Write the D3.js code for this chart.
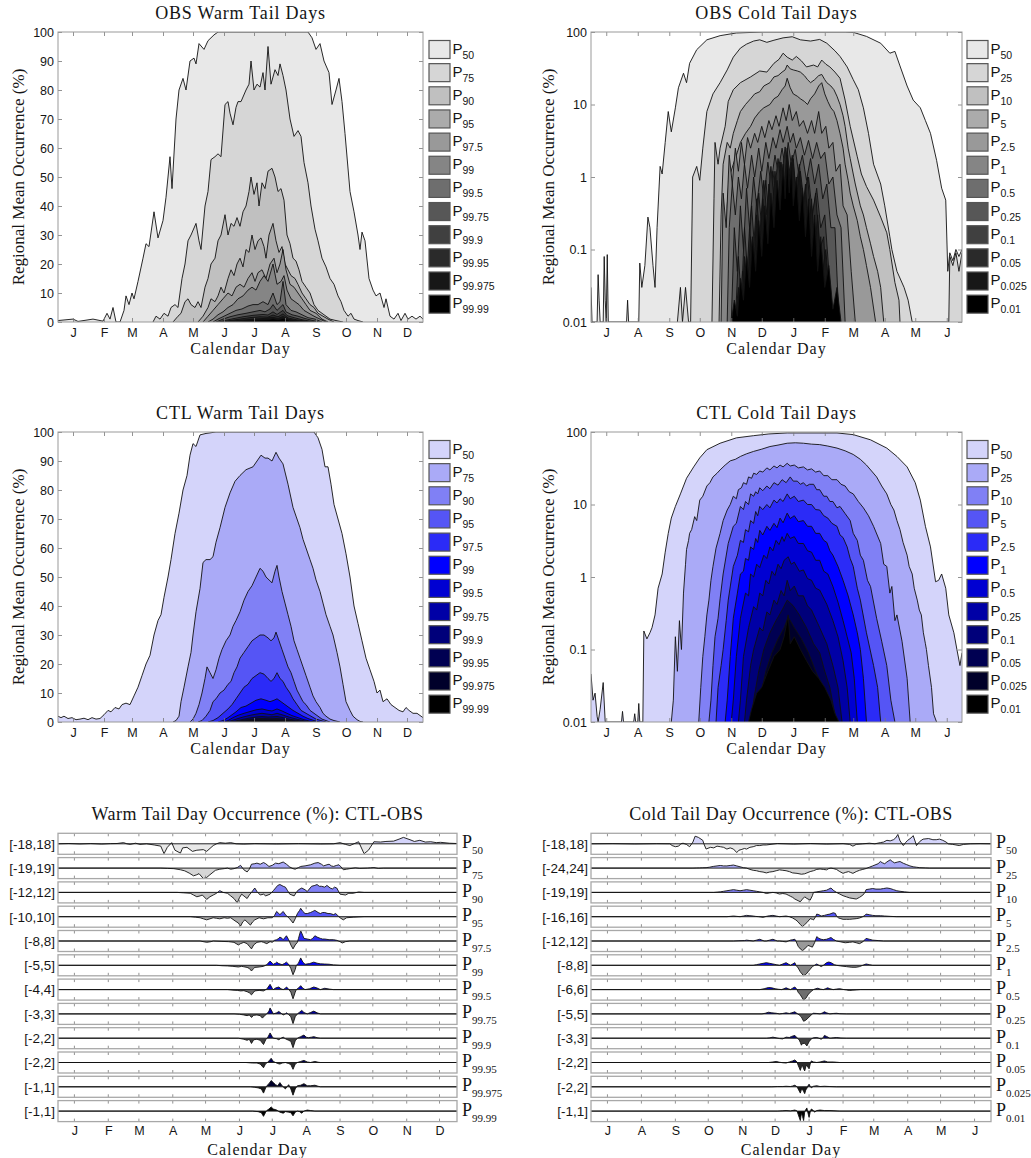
<!DOCTYPE html>
<html>
<head>
<meta charset="utf-8">
<script src="https://cdnjs.cloudflare.com/ajax/libs/d3/7.8.5/d3.min.js"></script>
<style>
  body { margin: 0; background: #fff; }
  svg text { fill: #151515; }
</style>
</head>
<body>
<div id="chart"></div>
<script>
"use strict";

// ---------- categories / labels ----------
const warmMonths = ["J","F","M","A","M","J","J","A","S","O","N","D"];
const warmMonthDays = [15,46,74,105,135,166,196,227,258,288,319,349];
const coldMonths = ["J","A","S","O","N","D","J","F","M","A","M","J"];
const coldMonthDays = [15,46,77,107,138,168,199,230,258,289,319,350];
const warmLevels = ["50","75","90","95","97.5","99","99.5","99.75","99.9","99.95","99.975","99.99"];
const coldLevels = ["50","25","10","5","2.5","1","0.5","0.25","0.1","0.05","0.025","0.01"];
const warmTicks = [0,10,20,30,40,50,60,70,80,90,100];
const coldTicks = [0.01,0.1,1,10,100];
const warmDiffRanges = [18,19,12,10,8,5,4,3,2,2,1,1];
const coldDiffRanges = [18,24,19,16,12,8,6,5,3,2,2,1];

const grayColors = ["#e8e8e8","#d6d6d6","#c0c0c0","#ababab","#999999","#858585","#6e6e6e","#575757","#404040","#2a2a2a","#171717","#000000"];
const blueColors = ["#d4d4fa","#aaaaf7","#8080f5","#5555f5","#2b2bf7","#0000ff","#0000d2","#0000a6","#00007a","#000052","#00002a","#000000"];

// ---------- OBS warm tail days (day of year from 1 Jan, %) ----------
const obsWarm = [
  [[0,0.5],[15,1],[20,0.2],[35,1],[45,0.3],[49,3],[52,1],[55,5],[58,0],[62,0],[66,4],[68,9],[71,6],[74,10],[76,8],[80,14],[85,22],[88,27],[91,26],[96,38],[100,29],[105,35],[108,43],[112,57],[114,46],[118,70],[121,80],[125,84],[128,80],[132,90],[136,91],[138,89],[141,96],[146,94],[150,97],[156,99],[160,100],[250,100],[254,98],[258,94],[262,96],[266,90],[271,86],[274,75],[278,80],[281,84],[284,76],[287,65],[292,45],[296,38],[300,30],[302,25],[304,31],[307,28],[311,15],[315,11],[318,9],[322,10],[326,5],[328,8],[332,2],[336,1],[340,3],[343,0.5],[347,3],[350,1],[354,2],[358,1],[362,2],[365,1]],
  [[95,0],[98,2],[102,1],[106,3],[110,2],[113,5],[117,6],[120,5],[124,15],[127,20],[130,28],[133,30],[138,34],[141,28],[143,25],[147,40],[150,45],[153,56],[157,57],[160,58],[163,57],[167,75],[170,76],[172,72],[175,68],[178,74],[180,76],[183,76],[188,80],[191,82],[193,90],[196,80],[199,82],[202,81],[205,86],[207,80],[210,95],[213,82],[217,87],[220,85],[222,89],[225,85],[228,80],[232,70],[236,64],[240,66],[243,64],[246,55],[250,48],[253,40],[257,32],[260,28],[264,22],[268,19],[272,15],[276,13],[280,9],[283,7],[286,4],[290,2],[293,3],[296,1],[300,0.5],[305,0]],
  [[115,0],[120,2],[123,3],[127,7],[130,8],[133,6],[137,5],[140,7],[143,5],[147,12],[150,15],[153,20],[157,22],[160,28],[163,30],[167,37],[170,30],[173,34],[176,33],[179,36],[182,33],[185,38],[188,40],[191,45],[193,50],[196,44],[199,48],[201,40],[204,48],[207,46],[210,52],[214,53],[217,50],[220,45],[223,46],[226,42],[229,30],[232,27],[235,22],[238,21],[241,18],[244,14],[248,12],[252,10],[256,6],[260,4],[264,3],[268,2],[272,1],[278,0.5],[285,0]],
  [[140,0],[145,2],[150,5],[153,8],[157,7],[160,9],[163,12],[166,10],[170,15],[173,18],[176,16],[179,20],[182,22],[185,19],[188,25],[191,24],[194,30],[197,25],[200,28],[203,29],[206,26],[208,22],[211,30],[215,34],[218,28],[221,24],[224,26],[227,20],[230,18],[233,16],[237,15],[240,13],[244,10],[248,8],[252,6],[256,5],[260,3],[265,2],[270,1],[276,0]],
  [[145,0],[150,2],[155,4],[160,6],[165,8],[170,10],[174,9],[178,12],[182,13],[186,12],[190,15],[194,17],[197,14],[200,17],[204,18],[208,15],[212,20],[216,22],[219,17],[222,20],[225,25],[228,18],[232,13],[236,12],[240,10],[244,8],[248,6],[252,4],[258,3],[264,1],[270,0]],
  [[150,0],[155,1],[160,2.5],[165,3.5],[170,5],[175,6],[180,8],[185,9],[190,11],[194,12],[198,11],[202,14],[206,16],[210,14],[215,20],[219,13],[223,14],[226,16],[229,11],[233,8],[237,7],[241,6],[246,4],[251,3],[256,2],[262,1],[268,0]],
  [[155,0],[160,1],[166,2],[172,3],[178,4],[184,4.5],[190,5.5],[195,6],[200,6],[205,7],[210,6],[215,10],[219,6],[222,7],[225,14],[228,6],[233,4],[238,3.5],[244,2.5],[250,1.5],[257,1],[264,0]],
  [[158,0],[165,1],[172,1.8],[180,2.5],[188,3],[195,3.5],[202,4],[207,3.5],[212,4.5],[215,6],[219,4],[225,6],[228,3.5],[234,2.5],[240,2],[247,1.2],[255,0.5],[262,0]],
  [[160,0],[168,0.6],[176,1.2],[185,1.8],[195,2.3],[205,2.6],[210,2.4],[215,3.5],[219,2.6],[225,4],[229,2.2],[236,1.5],[244,0.8],[252,0.3],[260,0]],
  [[163,0],[172,0.5],[182,1],[192,1.5],[202,1.8],[210,1.7],[215,2.4],[220,1.8],[225,2.8],[230,1.4],[238,0.8],[248,0.3],[256,0]],
  [[166,0],[176,0.4],[186,0.7],[196,1],[205,1.2],[215,1.6],[220,1.2],[225,1.9],[231,0.9],[240,0.4],[250,0]],
  [[170,0],[180,0.2],[190,0.5],[200,0.7],[210,0.8],[215,1.1],[220,0.8],[225,1.2],[232,0.5],[242,0.2],[250,0]]
];

// ---------- CTL warm tail days ----------
const ctlWarm = [
  [[0,2],[3,1.5],[6,2],[10,1.2],[14,1.5],[18,0.8],[22,1],[26,1.3],[30,0.8],[34,1.5],[38,1],[42,1.2],[46,2.5],[50,4],[53,3.5],[57,5],[61,4.5],[64,6],[68,6.5],[72,6],[76,9],[80,12],[84,16],[88,20],[92,23],[96,30],[100,35],[103,37],[106,43],[110,50],[113,56],[117,65],[121,72],[125,80],[129,85],[132,92],[135,96],[138,95],[142,99],[148,99.5],[158,100],[256,100],[260,98],[264,94],[267,88],[270,88],[273,82],[276,75],[280,70],[284,65],[288,58],[292,50],[296,40],[300,34],[304,28],[308,22],[312,18],[316,14],[319,10],[322,11],[325,7],[329,8],[333,6],[337,5],[341,4],[345,3.5],[348,5],[351,4],[355,3],[359,3],[363,2],[365,1.5]],
  [[115,0],[118,0.5],[121,2],[123,7],[126,12],[130,19],[133,24],[135,30],[138,38],[142,46],[145,55],[148,56],[152,56],[155,57],[158,62],[162,67],[167,74],[172,79],[177,83],[182,85],[188,87],[195,88],[199,90],[203,92],[207,91],[210,91],[214,90],[218,93],[221,91],[225,89],[230,82],[235,74],[238,71],[242,67],[245,63],[248,60],[252,56],[255,53],[258,49],[262,45],[265,41],[268,37],[272,33],[275,30],[279,24],[282,19],[285,13],[288,7],[292,4],[295,2],[299,0.8],[302,0.2],[305,0]],
  [[132,0],[135,1],[138,3],[141,6],[144,10],[147,15],[149,19],[152,17],[155,15],[158,18],[161,22],[164,25],[168,28],[172,30],[175,33],[178,35],[182,38],[186,42],[190,45],[194,47],[198,50],[202,53],[205,52],[208,50],[211,49],[214,48],[217,52],[219,54],[221,50],[224,45],[227,41],[230,37],[233,33],[236,28],[239,25],[242,22],[245,19],[248,16],[252,12],[255,9],[258,7],[262,5],[265,3],[268,2],[272,1],[276,0.5],[282,0]],
  [[140,0],[144,0.5],[148,2],[152,4],[155,7],[158,8],[162,10],[166,11],[170,13],[173,14],[176,17],[179,19],[182,22],[186,24],[190,26],[194,28],[198,29],[202,30],[206,30],[210,29],[213,28],[216,29],[218,31],[221,28],[224,25],[227,22],[230,19],[233,17],[236,14],[239,11],[242,9],[245,7],[248,6],[252,4],[256,3],[260,2],[264,1],[268,0.5],[272,0]],
  [[150,0],[155,0.5],[160,1.5],[165,3],[170,4.5],[174,6],[178,8],[182,10],[186,12],[190,13],[194,15],[198,16],[202,17],[206,16.5],[210,15],[213,14],[216,15],[219,17],[222,15],[225,14],[228,12],[232,10],[235,8],[239,6],[243,4],[248,3],[253,2],[258,1],[263,0.5],[268,0]],
  [[160,0],[165,0.5],[170,1.5],[174,2.5],[178,3.5],[183,5],[188,5.5],[193,6.5],[198,7.5],[203,8],[208,7.5],[212,7],[216,7.5],[219,8],[223,7],[227,6],[231,5],[235,4],[240,3],[245,2],[250,1.2],[256,0.5],[262,0]],
  [[165,0],[170,0.5],[175,1.5],[180,2.3],[186,3],[192,3.6],[198,4.2],[204,4.5],[210,4],[214,3.8],[219,4.5],[224,3.8],[229,3],[234,2.2],[240,1.5],[246,0.8],[252,0.3],[258,0]],
  [[168,0],[174,0.5],[180,1.2],[186,1.8],[192,2.3],[198,2.7],[204,3],[210,2.7],[214,2.5],[219,3],[224,2.5],[230,1.8],[236,1.2],[242,0.7],[248,0.3],[254,0]],
  [[172,0],[178,0.4],[185,0.9],[192,1.4],[198,1.7],[204,1.9],[210,1.7],[219,1.9],[225,1.5],[231,1],[238,0.6],[245,0.2],[250,0]],
  [[175,0],[182,0.4],[190,0.8],[198,1.1],[204,1.2],[212,1.1],[219,1.2],[226,0.9],[233,0.5],[240,0.2],[246,0]],
  [[178,0],[186,0.3],[194,0.6],[202,0.8],[210,0.7],[219,0.8],[226,0.6],[233,0.3],[240,0.1],[244,0]],
  [[182,0],[190,0.2],[198,0.35],[205,0.45],[212,0.4],[219,0.45],[226,0.3],[233,0.15],[240,0]]
];

// ---------- OBS cold tail days (day from 1 Jul, %; log axis) ----------
const obsCold = [
  [[0,0.03],[1,0],[6,0],[7,0.045],[8,0.02],[9,0],[12,0],[13,0.08],[14,0.02],[15,0],[16,0.085],[17,0],[35,0],[36,0.02],[37,0],[47,0],[48,0.065],[50,0.03],[53,0.06],[56,0.28],[58,0.2],[61,0.06],[63,0.03],[65,0.2],[68,1.4],[70,1.1],[73,3],[76,8],[79,4.2],[83,9],[86,17],[91,27],[94,20],[97,37],[104,57],[114,78],[127,89],[143,97],[170,100],[250,100],[258,99],[271,87],[285,70],[294,51],[299,54],[304,34],[311,18],[317,11.5],[324,9],[329,6],[334,4],[340,1.7],[345,0.7],[349,0.48],[351,0.05],[353,0.09],[356,0.07],[359,0.1],[362,0.08],[365,0.1]],
  [[85,0],[88,0.03],[90,0.01],[93,0.03],[96,0],[98,0.01],[100,1],[104,1.4],[107,0.9],[110,2.5],[114,8],[120,14],[127,20],[134,30],[140,45],[147,60],[153,68],[160,75],[166,78],[173,72],[180,77],[189,83],[198,86],[206,78],[216,75],[225,79],[232,70],[240,55],[245,46],[252,33],[258,22],[263,16],[268,9],[273,4],[278,1.5],[285,0.8],[289,0.4],[294,0.15],[296,0.1],[301,0.05],[308,0.03],[312,0.02],[316,0],[352,0],[353,0.08],[356,0.06],[359,0.09],[362,0.05],[365,0.09]],
  [[119,0],[121,0.5],[122,3],[125,1.5],[127,2.5],[132,5],[135,11],[140,16],[147,20],[157,24],[166,29],[173,28],[180,37],[185,42],[189,51],[193,45],[198,41],[202,46],[207,40],[212,33],[219,35],[223,33],[227,41],[231,36],[235,33],[240,28],[245,23],[250,11.5],[255,5],[262,1.9],[266,1.1],[271,0.74],[278,0.48],[285,0.28],[291,0.17],[294,0.1],[299,0.035],[303,0.02],[304,0]],
  [[126,0],[128,0.3],[130,1.5],[134,3],[137,2.5],[140,4],[144,6],[147,8],[152,10],[157,12],[161,14],[166,15],[170,18],[176,20],[180,24],[184,25],[188,28],[191,30],[193,35],[196,31],[199,30],[203,29],[206,28],[210,25],[213,22],[216,20],[220,22],[224,25],[227,26],[230,22],[232,20],[236,18],[239,16],[242,13],[245,10],[248,7],[250,5],[253,2.5],[255,1.8],[258,1.1],[260,0.8],[265,0.4],[268,0.3],[271,0.2],[275,0.12],[278,0.08],[282,0.05],[285,0.03],[288,0]],
  [[132,0],[134,0.4],[136,1],[140,1.5],[144,2.2],[147,3],[152,4],[157,5],[161,6.5],[166,8],[170,9],[176,10],[180,12],[184,13],[188,16],[191,18],[193,23],[196,17],[199,14],[203,13],[206,12],[210,11],[213,10],[216,12],[220,14],[224,18],[227,20],[230,14],[233,11],[236,9],[239,8],[242,6],[245,4],[248,2.5],[250,1.5],[253,0.9],[255,0.6],[258,0.4],[262,0.25],[265,0.15],[268,0.1],[271,0.06],[275,0.03],[280,0]],
  [[128,0],[130,0.6],[133,0.2],[136,2],[139,0.8],[142,2.5],[145,1.2],[148,3],[151,1.5],[154,3.5],[157,2.5],[161,4],[164,3],[168,5],[171,3.5],[175,6],[178,4.5],[182,7],[185,5],[189,9],[192,6],[195,10],[198,6],[202,8],[205,5],[209,6],[213,4],[217,6],[220,4],[224,8],[227,4],[231,5],[234,2.5],[238,3],[241,1.2],[245,1.5],[248,0.4],[252,0.3],[256,0.05],[260,0]],
  [[134,0],[136,0.2],[139,0.8],[142,0.3],[145,1],[148,0.5],[151,1.5],[154,0.7],[158,2],[161,1],[165,2.5],[168,1.2],[172,3],[175,1.8],[179,3.5],[182,2.5],[186,4.5],[189,3],[193,5],[196,3],[199,4],[202,2.5],[206,3.5],[210,2],[214,3.2],[218,1.8],[222,3],[226,1.8],[230,2.2],[234,0.8],[238,1],[242,0.3],[246,0.2],[250,0]],
  [[138,0],[141,0.2],[144,0.05],[147,0.4],[150,0.1],[153,0.7],[156,0.2],[160,1],[163,0.4],[167,1.2],[170,0.5],[174,1.6],[177,0.8],[181,2],[184,1.2],[188,2.5],[191,1.4],[194,3],[197,1.5],[201,2.4],[204,1.2],[208,2],[212,0.9],[216,1.8],[220,0.8],[224,1.5],[228,0.5],[232,0.8],[236,0.2],[240,0.2],[244,0]],
  [[142,0],[145,0.08],[148,0.02],[151,0.2],[154,0.05],[158,0.4],[161,0.1],[165,0.6],[168,0.2],[172,0.9],[175,0.3],[179,1.2],[182,0.5],[186,1.6],[189,0.7],[192,2],[195,0.8],[199,1.5],[202,0.6],[206,1.2],[210,0.4],[214,1],[218,0.3],[222,0.7],[226,0.2],[230,0.3],[234,0.05],[238,0]],
  [[146,0],[149,0.05],[152,0.02],[156,0.2],[159,0.06],[163,0.5],[166,0.15],[170,0.9],[173,0.3],[177,1.4],[180,0.5],[184,1.8],[187,0.8],[191,2.6],[194,1],[198,2],[201,0.6],[205,1.5],[209,0.4],[213,1],[217,0.25],[221,0.6],[225,0.1],[229,0.15],[233,0]],
  [[142,0],[145,0.03],[148,0.015],[151,0.08],[154,0.03],[157,0.15],[160,0.05],[163,0.3],[166,0.1],[169,0.5],[172,0.15],[175,0.8],[178,0.3],[181,1.2],[184,0.45],[187,1.6],[190,0.7],[193,2.5],[196,0.8],[199,1.8],[202,0.5],[205,1.2],[208,0.3],[211,0.8],[214,0.15],[217,0.5],[220,0.1],[223,0.3],[227,0.04],[231,0.1],[235,0.02],[240,0]],
  [[138,0],[141,0.02],[144,0.012],[147,0.04],[150,0.02],[153,0.08],[156,0.03],[159,0.15],[162,0.05],[165,0.25],[168,0.08],[171,0.4],[174,0.12],[177,0.6],[180,0.2],[183,0.9],[186,0.35],[189,1.5],[191,0.5],[193,2],[195,0.6],[197,1.6],[199,0.4],[202,1],[205,0.25],[208,0.7],[211,0.15],[214,0.5],[217,0.08],[220,0.3],[223,0.05],[226,0.15],[230,0.03],[234,0.06],[238,0.015],[242,0.03],[246,0]]
];

// ---------- CTL cold tail days ----------
const ctlCold = [
  [[0,0.046],[2,0.02],[4,0.025],[6,0.012],[7,0],[9,0.015],[12,0.035],[14,0.01],[15,0],[30,0],[31,0.014],[32,0],[42,0],[43,0.013],[44,0],[46,0],[47,0.018],[48,0],[51,0],[52,0.18],[55,0.14],[58,0.17],[60,0.2],[63,0.3],[66,0.7],[70,1.1],[73,2.2],[76,4],[79,6.5],[83,9.4],[88,14],[94,23],[101,33],[107,44],[114,57],[127,70],[143,83],[160,89],[175,94],[193,97],[242,97],[258,92],[275,78],[291,60],[301,46],[311,33],[319,20],[324,11.5],[329,5],[334,2.6],[339,0.86],[342,0.9],[345,1.1],[349,0.7],[352,0.3],[357,0.17],[360,0.1],[363,0.06],[365,0.09]],
  [[79,0],[81,0.02],[83,0.15],[85,0.05],[87,0.25],[89,0.1],[91,0.6],[93,1.5],[94,2.4],[96,3.2],[97,4],[99,4.5],[102,6.8],[104,6],[107,11.5],[110,13],[114,18],[117,20],[120,24],[124,27],[127,30],[132,35],[137,40],[142,42],[147,46],[153,50],[160,54],[168,58],[176,63],[184,66],[193,70],[201,71],[209,70],[217,68],[225,67],[233,64],[242,60],[250,55],[258,49],[265,42],[271,35],[276,29],[281,24],[286,18],[291,14],[295,10],[298,8.4],[301,6],[304,4.5],[307,3],[311,2],[313,1.4],[316,1.1],[318,0.7],[321,0.48],[323,0.35],[325,0.3],[327,0.17],[329,0.12],[330,0.1],[332,0.06],[335,0.03],[337,0.013],[340,0]],
  [[106,0],[108,0.03],[110,0.08],[112,0.15],[114,0.3],[116,0.48],[118,0.9],[120,1.4],[123,2.5],[127,4],[130,6],[134,8.4],[137,10],[140,13],[143,12],[145,16],[148,17],[150,20],[153,19],[155,24],[158,23],[160,27],[163,26],[166,29],[169,28],[173,32],[176,30],[180,34],[183,32],[186,35],[189,33],[193,37],[196,34],[200,35],[204,32],[209,33],[213,30],[217,31],[221,28],[225,29],[229,25],[233,25],[237,22],[242,22],[246,19],[250,18],[254,15],[258,14],[263,11],[268,9],[273,7],[278,5],[285,2.9],[288,1.5],[291,1.4],[294,0.6],[296,0.74],[299,0.25],[301,0.3],[306,0.13],[311,0.04],[314,0]],
  [[116,0],[118,0.02],[120,0.06],[122,0.15],[125,0.27],[127,0.5],[130,1.1],[135,2.9],[140,5],[143,5.5],[147,9.4],[150,8.5],[152,11],[155,10],[157,14],[160,13],[162,15],[164,14],[166,17],[169,15.5],[173,18],[176,16.5],[180,20],[184,18.5],[188,22],[192,20],[196,24],[199,21],[203,21],[206,19],[209,20],[212,18],[215,19],[219,19],[222,16],[225,16],[229,13],[232,13],[235,11],[238,11],[242,9],[245,9.4],[250,7.5],[255,6],[258,4],[262,3.2],[265,2],[268,1.7],[272,0.9],[275,0.74],[281,0.27],[286,0.13],[291,0.06],[295,0.02],[299,0]],
  [[123,0],[125,0.03],[128,0.06],[130,0.1],[133,0.25],[135,0.48],[140,1.4],[144,2],[147,3.2],[150,3],[152,4.5],[155,4.2],[157,6],[160,5.5],[162,8],[164,7],[166,9.4],[169,8.5],[173,10],[176,9],[180,11.5],[183,10.5],[186,12],[189,11],[193,14],[196,12],[200,13],[204,11],[209,11.5],[213,10],[217,10],[221,8.5],[225,8.4],[229,7],[233,6.5],[237,5.5],[242,5],[245,3.8],[248,3.5],[252,2.6],[255,1.8],[258,1.4],[262,0.7],[265,0.48],[271,0.17],[278,0.06],[282,0.03],[285,0]],
  [[132,0],[134,0.02],[137,0.08],[140,0.27],[144,0.6],[147,1.1],[150,1.2],[152,1.8],[155,1.7],[157,2.6],[160,2.4],[162,3.4],[164,3],[166,4.4],[169,3.8],[173,5],[176,4.4],[180,5.5],[183,4.8],[186,6.5],[189,5.6],[193,7.6],[196,6.4],[200,7],[204,5.8],[209,6],[213,5],[217,5],[221,4],[225,4],[229,3.2],[232,3],[235,2.3],[238,2],[243,1.4],[248,0.9],[253,0.55],[258,0.3],[262,0.17],[265,0.1],[268,0.04],[271,0]],
  [[138,0],[140,0.02],[143,0.08],[147,0.27],[152,0.6],[155,0.55],[157,1.1],[160,1],[163,1.5],[166,1.35],[170,2],[173,1.8],[176,2.6],[179,2.3],[182,3.2],[185,2.8],[188,3.6],[190,3.1],[193,4],[196,3.4],[200,3.6],[204,2.9],[209,2.9],[213,2.3],[217,2.2],[221,1.7],[225,1.7],[229,1.2],[233,1.1],[238,0.74],[243,0.45],[248,0.25],[252,0.15],[256,0.09],[259,0.04],[262,0]],
  [[145,0],[147,0.02],[150,0.08],[155,0.2],[160,0.39],[163,0.35],[166,0.6],[169,0.55],[172,0.9],[175,0.8],[178,1.2],[181,1.05],[184,1.5],[187,1.3],[190,1.7],[194,1.9],[197,1.5],[200,1.6],[205,1.2],[209,1.25],[213,0.95],[217,0.9],[221,0.7],[225,0.66],[232,0.42],[238,0.25],[243,0.15],[248,0.07],[252,0.03],[255,0]],
  [[151,0],[153,0.02],[157,0.06],[160,0.1],[166,0.2],[169,0.18],[173,0.33],[176,0.3],[180,0.48],[183,0.42],[187,0.65],[190,0.55],[193,0.9],[196,0.65],[200,0.75],[204,0.55],[209,0.55],[213,0.4],[217,0.35],[225,0.2],[232,0.12],[238,0.06],[243,0.03],[247,0]],
  [[158,0],[160,0.02],[165,0.05],[170,0.1],[176,0.17],[182,0.25],[188,0.35],[193,0.48],[199,0.4],[205,0.3],[212,0.2],[219,0.12],[225,0.09],[230,0.05],[235,0.03],[239,0.015],[242,0]],
  [[162,0],[166,0.02],[172,0.05],[178,0.09],[184,0.14],[190,0.2],[194,0.28],[200,0.2],[207,0.14],[214,0.09],[221,0.05],[228,0.03],[234,0.015],[238,0]],
  [[155,0],[158,0.015],[163,0.025],[168,0.03],[174,0.05],[180,0.08],[186,0.1],[190,0.15],[194,0.3],[196,0.12],[200,0.15],[206,0.1],[212,0.07],[218,0.05],[224,0.04],[230,0.03],[236,0.02],[240,0.013],[244,0]]
];

// ---------- CTL-OBS differences, warm (percentage points) ----------
const warmDiff = [
  [[0,0],[10,0.5],[20,-0.3],[30,0.4],[40,-0.5],[48,0.3],[54,0.5],[60,2],[63,0],[66,-1],[71,1],[75,-1],[81,0],[88,-2],[94,-4],[97,-17],[100,-6],[103,0],[104,2],[107,-11],[112,-16],[114,-7],[118,-6],[123,-13],[127,-11],[133,-10],[136,-13],[142,-3],[145,0],[148,2],[153,1],[158,2],[163,0],[170,-0.5],[180,0.3],[200,-0.3],[220,0.3],[240,-0.3],[252,0],[258,2],[263,-1],[267,-3],[275,3.5],[280,-17],[284,-11],[289,3.5],[295,3],[300,4],[307,4.6],[312,8],[316,11],[322,7],[326,4],[331,6],[336,3],[341,3.5],[346,2],[350,2.5],[358,1],[365,0.5]],
  [[0,0],[94,0],[100,-0.5],[106,-1],[112,-3],[116,-5],[120,-9],[124,-14],[127,-12],[129,-10],[133,-19],[136,-17],[139,-12],[144,-4],[148,-2],[152,-1],[155,0],[158,-2],[161,-1],[164,1],[167,5],[170,-3],[173,-7],[175,-2],[177,7],[180,8],[182,9],[185,7],[188,10],[190,8],[193,3],[196,5],[199,9],[202,8],[206,11],[209,7],[212,2],[215,-1],[217,-2],[220,1],[222,3],[226,4],[231,6],[235,9],[238,10],[241,7],[243,4],[246,6],[248,7],[250,4],[252,3],[255,5],[257,6],[259,2],[261,-3],[264,-2],[267,-1],[272,0.5],[276,-0.5],[283,0],[286,0.5],[289,1],[293,-0.5],[298,0],[365,0]],
  [[0,0],[109,0],[115,-0.5],[121,-1],[124,-3],[127,-5],[130,-4],[132,-3],[136,-8],[139,-5],[142,-3],[145,-1],[148,2],[151,0],[155,-1],[158,-4],[161,-7],[164,-12],[166,-6],[168,-2],[170,-4],[173,-7],[175,-3],[177,0],[180,5],[182,1],[185,-3],[188,-2],[190,-4],[194,-2],[197,2],[199,5],[201,8],[203,9],[206,7],[208,6],[210,2],[212,-2],[216,-4],[218,0],[220,3],[223,5],[226,3],[228,1],[232,7],[235,8],[237,9],[239,7],[241,7],[244,6],[246,8],[249,5],[251,4],[253,6],[255,5],[258,-2],[263,-3],[266,-1],[270,-1],[275,0.5],[280,0],[365,0]],
  [[0,0],[121,0],[126,-0.5],[130,-1],[133,-2],[136,-3],[139,-2],[142,-1],[145,-1.5],[148,-2],[152,-1],[155,-1.5],[158,-1],[162,-4],[165,-6],[167,-9],[169,-5],[171,-3],[173,-5],[176,-8],[178,-5],[180,-3],[184,-1],[188,-2],[192,-1],[196,-1],[198,1],[200,5],[202,3],[203,2],[205,4],[206,5],[208,2],[209,1],[212,-2],[215,-6],[217,-2],[219,3],[221,6],[222,8],[224,5],[226,3],[228,3],[231,4],[233,5],[235,6],[238,4],[240,3],[242,4],[244,4],[247,3],[249,3],[252,2],[254,3],[256,1],[258,-1],[261,-3],[264,-1],[270,-0.5],[280,0],[365,0]],
  [[0,0],[130,0],[136,-1],[140,-0.5],[142,0],[150,-0.3],[156,-0.5],[161,-1],[163,-2],[165,-3],[167,-2],[170,-1],[173,-2],[175,-4],[177,-6],[179,-3],[182,-1],[186,-0.5],[188,-1],[191,-2],[194,-0.5],[196,-1],[198,0.5],[200,1],[202,2],[203,3],[205,2],[206,1],[208,3],[209,4],[211,1],[213,-3],[215,-6],[217,-3],[219,-1],[220,2],[222,8],[224,4],[225,2],[228,1.5],[231,1],[233,2],[235,4],[237,3],[240,2],[242,1.5],[244,1.5],[248,1],[252,1],[255,0.5],[258,-0.5],[260,-1.5],[263,-0.5],[267,0],[365,0]],
  [[0,0],[145,0],[150,-0.2],[155,-0.3],[160,-0.5],[165,-0.8],[168,-0.5],[170,-0.7],[173,-1],[175,-1.5],[177,-2.7],[179,-1.5],[180,-1],[184,-0.8],[188,-0.5],[191,0.3],[194,2],[196,1],[197,0.5],[199,1],[200,1.5],[202,0.8],[205,0.3],[207,0.8],[209,1.5],[211,0.5],[213,-1.5],[215,-4.5],[217,-2],[218,0],[220,1],[222,3.5],[224,1.5],[226,0.5],[230,0.8],[234,1.5],[237,1],[240,0.7],[244,0.6],[248,0.5],[252,0.2],[258,0],[365,0]],
  [[0,0],[155,0],[160,-0.2],[164,-0.3],[167,-0.5],[170,-0.4],[173,-0.8],[175,-1.2],[177,-2],[179,-1],[180,-0.5],[184,-0.3],[188,-0.5],[191,0.2],[194,2],[196,0.5],[197,0],[199,0.6],[202,1],[204,0.3],[206,0],[208,0.5],[209,1],[211,0.2],[213,-1],[215,-3.5],[217,-1],[218,0],[220,0.6],[222,1.5],[224,0.5],[226,0],[230,0.3],[234,1],[237,0.6],[240,0],[244,0.5],[248,0.2],[252,0],[365,0]],
  [[0,0],[161,0],[166,-0.1],[170,-0.3],[173,-0.5],[175,-0.3],[177,-1],[179,-0.4],[182,-0.3],[185,-0.5],[187,-1.2],[189,-0.5],[191,0],[193,0.8],[194,1.7],[196,0.6],[197,0],[200,0.3],[202,0.7],[204,0.2],[206,-0.3],[208,0],[209,0.3],[211,-0.2],[213,-0.8],[215,-2.8],[217,-0.8],[219,0],[221,0.5],[223,1],[225,0.4],[228,0],[231,0.4],[234,0.8],[237,0.3],[240,0],[365,0]],
  [[0,0],[165,0],[170,-0.2],[173,-0.4],[175,-0.2],[177,-1],[179,-0.3],[182,-0.2],[185,-0.4],[188,-1.2],[190,-0.3],[192,0.2],[194,1],[196,0.3],[197,0],[200,-0.1],[202,-0.3],[204,0],[206,0.2],[208,-0.1],[211,-0.4],[213,-0.6],[215,-1.8],[217,-0.5],[219,0],[222,0.3],[225,0.6],[227,0.2],[229,0.1],[232,0.2],[234,0.3],[237,0.1],[240,0],[365,0]],
  [[0,0],[172,0],[178,-0.1],[182,-0.1],[185,-0.3],[188,-1],[190,-0.2],[191,-0.1],[193,0.3],[195,0.8],[197,0.2],[199,0],[201,-0.2],[203,-0.3],[205,-0.1],[208,0],[211,-0.2],[213,-0.4],[215,-1.3],[217,-0.3],[219,0],[222,0.2],[225,0.4],[228,0.1],[231,0],[235,0.2],[238,0.05],[240,0],[365,0]],
  [[0,0],[176,0],[180,-0.05],[183,-0.1],[186,-0.2],[188,-0.6],[190,-0.1],[191,0.1],[193,0.3],[195,0.6],[197,0.4],[199,0.2],[201,0.1],[203,0.4],[205,0.1],[208,-0.2],[211,0.2],[213,-0.2],[215,-0.8],[217,-0.2],[219,0.1],[222,0.15],[225,0.3],[228,0.1],[231,0.1],[235,0.15],[238,0.05],[240,0],[365,0]],
  [[0,0],[178,0],[183,-0.05],[186,-0.15],[188,-0.5],[190,-0.1],[191,0.05],[193,0.2],[195,0.4],[197,0.2],[200,0.1],[203,-0.1],[206,-0.2],[208,-0.05],[211,-0.1],[213,-0.15],[215,-0.45],[217,-0.1],[219,0],[221,-0.05],[223,-0.2],[225,0],[228,0.1],[231,0.05],[235,0],[365,0]]
];

// ---------- CTL-OBS differences, cold ----------
const coldDiff = [
  [[0,0],[20,0.3],[40,-0.3],[60,0.2],[72,0],[74,-3],[77,-5],[80,-4],[82,0],[84,1],[87,-1],[90,-5],[93,3],[95,13],[98,11],[102,6],[103,0],[105,-9],[109,-6],[112,-7],[115,-4],[118,-5],[121,-6],[124,-9],[127,-7],[130,-9],[133,-15],[135,-11],[137,-10],[140,-8],[142,-9],[145,-6],[148,-5],[151,-3],[154,-3],[157,-2],[160,-2],[170,0.5],[185,-0.5],[200,0.5],[215,-0.5],[230,0.3],[236,-1],[239,-4],[242,-1],[248,0],[254,1],[259,0],[264,2],[267,3],[270,6],[273,5],[276,7],[278,10],[280,16],[282,5],[285,-3],[287,2],[289,6],[292,10],[294,14],[296,3],[297,-3],[300,4],[303,8],[308,9],[312,7],[315,7],[318,8],[321,6],[324,3],[326,0],[330,-1],[333,-2],[336,-3],[340,-1],[346,0],[355,0.3],[365,0]],
  [[0,0],[93,0],[96,0.3],[99,0.5],[102,0.8],[105,1],[108,2],[112,4],[115,5],[118,6],[121,5],[124,5],[127,6],[130,7],[133,5],[136,3],[139,1],[142,0],[145,-3],[148,-5],[151,-6],[154,-8],[157,-9],[160,-11],[163,-9],[166,-8],[169,-6],[172,-4],[175,-5],[178,-6],[181,-8],[184,-11],[188,-12],[192,-14],[195,-13],[197,-11],[200,-8],[203,-6],[206,-3],[209,-2],[212,-3],[215,-4],[217,-1],[219,0],[221,-1],[224,-3],[227,-8],[230,-12],[232,-10],[235,-8],[237,-10],[239,-12],[242,-8],[245,-5],[248,-3],[251,-1],[254,2],[257,5],[260,8],[262,10],[264,15],[266,12],[268,10],[270,14],[273,19],[275,15],[277,12],[280,14],[282,15],[285,11],[288,8],[291,5],[294,3],[297,2],[300,1],[305,0.5],[309,0],[365,0]],
  [[0,0],[112,0],[115,0.5],[118,1],[121,2],[124,3],[127,4],[130,5],[133,4],[136,3],[139,4],[142,5],[145,4],[148,3],[151,2],[154,1],[157,0],[160,-2],[163,-1],[166,0],[169,-1],[172,-3],[175,-2],[178,-3],[180,-5],[182,-7],[184,-9],[186,-12],[189,-15],[191,-17],[193,-12],[195,-8],[197,-11],[200,-14],[202,-6],[203,0],[206,1],[209,2],[212,3],[215,4],[217,6],[219,8],[221,4],[224,0],[227,-3],[230,-6],[233,-8],[236,-10],[239,-11],[242,-12],[245,-9],[248,-5],[250,0],[251,5],[254,6],[257,7],[260,6],[264,6],[267,7],[270,8],[273,7],[276,5],[279,3],[282,2],[286,1],[291,0],[365,0]],
  [[0,0],[124,0],[127,0.5],[130,1],[133,0.5],[136,0],[139,1],[142,2],[145,1.5],[148,1],[150,0.5],[153,0],[155,-0.5],[157,-1],[160,0.5],[163,1.5],[166,2],[169,1],[172,0],[175,0.5],[178,1],[181,0],[184,-2],[187,-5],[189,-8],[191,-12],[193,-15],[195,-12],[197,-9],[199,-5],[200,-3],[202,-4],[203,-5],[205,0],[206,4],[208,3],[210,1],[213,2],[215,3],[218,4],[221,6],[223,5],[224,1],[226,-2],[228,-3],[230,-4],[233,-4],[236,-4],[239,-3.5],[242,-3],[245,-2],[248,0],[250,2],[251,4],[254,3],[257,2],[260,1.5],[264,1.5],[268,1],[273,0.5],[279,0],[365,0]],
  [[0,0],[130,0],[135,0.3],[140,0.5],[142,1],[145,0.5],[148,0],[151,1],[154,2],[156,1],[158,0],[160,0],[163,1],[166,2],[168,1],[170,0],[172,0],[175,-0.5],[178,-1],[180,0],[182,1],[184,1.5],[186,2],[187,0],[189,-6],[191,-9],[193,-11],[195,-9],[198,-5],[200,-6],[202,-7],[204,-2],[206,5],[208,3],[210,2],[212,1.5],[215,2],[217,3],[219,4],[221,2],[224,0],[228,-1],[232,-2],[236,-1.5],[239,-1],[242,-2],[245,-3],[248,-1],[251,3],[254,2],[257,1],[262,0.5],[267,0],[365,0]],
  [[0,0],[148,0],[151,0.5],[154,1],[157,1.5],[160,2],[163,1.5],[166,1],[169,0.5],[172,0],[175,1],[178,2],[180,1],[182,0],[184,1],[186,2],[187,0],[189,-2],[191,-5],[194,-8],[196,-7],[198,-5],[200,-3],[202,-1],[204,0],[206,1],[208,0],[210,-1],[212,0],[215,2],[217,2.5],[219,2],[222,0.5],[224,0],[228,-0.5],[233,-1],[238,-1.5],[242,-1.5],[245,-1],[248,0],[251,1],[254,0.5],[257,0],[365,0]],
  [[0,0],[154,0],[158,0.5],[162,1.2],[165,1],[168,0.5],[171,0.2],[174,0],[176,0.5],[178,1],[180,0.5],[182,0],[184,0.8],[186,1.5],[188,0],[189,-1.5],[191,-3],[194,-6],[196,-5],[198,-3],[200,-1.5],[203,0],[205,0.5],[207,0.8],[209,0.3],[212,0],[214,0.5],[216,1],[218,0.5],[221,0],[224,0.3],[227,0.5],[230,0.1],[233,-0.2],[236,-0.5],[239,-0.3],[242,-0.2],[246,0],[365,0]],
  [[0,0],[156,0],[159,0.3],[162,0.8],[165,0.5],[169,0.3],[172,0],[175,0.2],[178,0.5],[181,0.2],[183,0.5],[186,1],[188,0.2],[190,-0.5],[192,-1.5],[194,-3.5],[196,-3],[198,-2],[200,-1],[202,0],[203,0.3],[206,0.2],[209,0],[211,0.4],[213,1],[215,0.5],[218,0],[221,0.2],[224,0.3],[227,0.1],[233,0],[365,0]],
  [[0,0],[160,0],[163,0.1],[166,0.3],[169,0.1],[172,-0.1],[175,-0.2],[178,0.3],[181,0.2],[183,0.5],[186,0.8],[188,0.1],[190,-0.5],[191,-1.2],[192,-2],[193,-1.5],[195,-1.5],[196,-1.8],[197,-2.2],[199,-1],[201,-0.2],[203,0.1],[206,0.2],[208,0],[210,-0.3],[212,0.2],[213,0.8],[215,0.5],[218,0],[221,0.1],[224,0.2],[228,0.05],[233,0],[365,0]],
  [[0,0],[162,0],[166,0.1],[169,0.2],[172,0.05],[175,-0.05],[178,-0.1],[181,0.1],[184,0.3],[186,0.5],[188,0.1],[189,-0.5],[190,-1],[191,-1.5],[192,-0.8],[193,-0.6],[194,-1.2],[195,-1.6],[196,-0.8],[197,-0.5],[198,-0.9],[199,-1.2],[200,-0.3],[201,0.3],[203,0.1],[206,0],[209,0.1],[213,0.3],[216,0.1],[221,0.1],[224,0.05],[227,0],[365,0]],
  [[0,0],[165,0],[170,0.05],[175,0.05],[178,0.1],[182,0.05],[184,0.15],[186,0.3],[188,0],[189,-0.4],[190,-0.8],[191,-1.2],[192,-0.5],[193,-0.5],[194,-0.9],[195,-1.3],[196,-0.6],[197,-0.3],[198,0.2],[199,0.5],[200,0.1],[201,-0.2],[203,0.1],[206,0.2],[209,0.05],[213,0.1],[218,0.05],[224,0],[365,0]],
  [[0,0],[170,0],[175,0.03],[178,0.05],[182,0.02],[186,0.1],[188,0.02],[189,-0.3],[190,-0.6],[191,-0.9],[192,-0.2],[193,-0.5],[194,-0.9],[195,-0.1],[196,0.15],[197,0.3],[198,-0.2],[199,-0.6],[200,-0.1],[201,0.2],[203,0.05],[204,-0.1],[206,0.05],[209,0.1],[213,0.05],[218,0.05],[227,0],[365,0]]
];

const SANS = "'Liberation Sans', Arial, Helvetica, sans-serif";
const SERIF = "'Liberation Serif', 'Times New Roman', serif";

let svg = d3.select("#chart").append("svg")
    .attr("width", 1031)
    .attr("height", 1158);

// four percentile panels
drawPanel(svg, {left: 58, right: 423, top: 32, bottom: 322},
    {id: "ow", title: "OBS Warm Tail Days", curves: obsWarm, colors: grayColors, levels: warmLevels,
     log: false, months: warmMonths, monthDays: warmMonthDays, legendX: 429, ylabelX: 18});
drawPanel(svg, {left: 591, right: 962, top: 32, bottom: 322},
    {id: "oc", title: "OBS Cold Tail Days", curves: obsCold, colors: grayColors, levels: coldLevels,
     log: true, months: coldMonths, monthDays: coldMonthDays, legendX: 967, ylabelX: 548});
drawPanel(svg, {left: 58, right: 423, top: 432, bottom: 722},
    {id: "cw", title: "CTL Warm Tail Days", curves: ctlWarm, colors: blueColors, levels: warmLevels,
     log: false, months: warmMonths, monthDays: warmMonthDays, legendX: 429, ylabelX: 18});
drawPanel(svg, {left: 591, right: 962, top: 432, bottom: 722},
    {id: "cc", title: "CTL Cold Tail Days", curves: ctlCold, colors: blueColors, levels: coldLevels,
     log: true, months: coldMonths, monthDays: coldMonthDays, legendX: 967, ylabelX: 548});

// difference strips
drawDiffPanel(svg, {left: 58, right: 457, top: 833.3, height: 21, pitch: 24.3},
    {id: "dw", title: "Warm Tail Day Occurrence (%): CTL-OBS", rows: warmDiff, ranges: warmDiffRanges,
     levels: warmLevels, months: warmMonths, monthDays: warmMonthDays});
drawDiffPanel(svg, {left: 591, right: 991, top: 833.3, height: 21, pitch: 24.3},
    {id: "dc", title: "Cold Tail Day Occurrence (%): CTL-OBS", rows: coldDiff, ranges: coldDiffRanges,
     levels: coldLevels, months: coldMonths, monthDays: coldMonthDays});

/**
 * gives the tick marks and labels of an axis the figure's look
 */
function styleAxis(g) {
    g.select(".domain").remove();
    g.selectAll(".tick line").attr("stroke", "#777").attr("stroke-width", 0.8);
    g.selectAll(".tick text")
        .style("font-family", SANS)
        .style("font-size", "12.5px")
        .attr("fill", "#151515");
}

/**
 * appends a serif caption (panel titles and axis titles)
 */
function serifText(svg, x, y, text, size, spacing) {
    return svg.append("text")
        .attr("x", x).attr("y", y)
        .attr("text-anchor", "middle")
        .style("font-family", SERIF)
        .style("font-size", size + "px")
        .style("letter-spacing", spacing + "px")
        .text(text);
}

/**
 * draws one percentile occurrence panel (stacked filled curves + legend)
 *
 * @param svg    the svg element
 * @param box    plot area in pixels
 * @param opts   titles, data, colours and axis settings
 */
function drawPanel(svg, box, opts) {
    const x = d3.scaleLinear().domain([0, 365]).range([box.left, box.right]);
    const y = opts.log
        ? d3.scaleLog().domain([0.01, 100]).range([box.bottom, box.top])
        : d3.scaleLinear().domain([0, 100]).range([box.bottom, box.top]);
    const floor = opts.log ? 0.01 : 0;
    const yv = v => y(Math.max(v, floor));

    svg.append("clipPath").attr("id", `clip-${opts.id}`)
       .append("rect")
       .attr("x", box.left).attr("y", box.top)
       .attr("width", box.right - box.left).attr("height", box.bottom - box.top);

    let g = svg.append("g").attr("clip-path", `url(#clip-${opts.id})`);

    const area = d3.area().x(d => x(d[0])).y0(box.bottom).y1(d => yv(d[1]));
    const line = d3.line().x(d => x(d[0])).y(d => yv(d[1]));

    //outermost percentile first, each one painted over the previous
    opts.curves.forEach((c, i) => {
        g.append("path")
         .attr("d", area(c))
         .attr("fill", opts.colors[i]);
        g.append("path")
         .attr("d", line(c))
         .attr("fill", "none")
         .attr("stroke", "#111")
         .attr("stroke-width", 0.9)
         .attr("stroke-linejoin", "round");
    });

    //axes
    const yTicks = opts.log ? coldTicks : warmTicks;
    svg.append("g")
       .attr("transform", `translate(${box.left},0)`)
       .call(d3.axisLeft(y).tickValues(yTicks).tickSize(-4).tickPadding(4).tickFormat(d => String(d)))
       .call(styleAxis);
    svg.append("g")
       .attr("transform", `translate(${box.right},0)`)
       .call(d3.axisRight(y).tickValues(yTicks).tickSize(-4).tickFormat(""))
       .call(styleAxis);
    svg.append("g")
       .attr("transform", `translate(0,${box.bottom})`)
       .call(d3.axisBottom(x).tickValues(opts.monthDays).tickSize(-4).tickPadding(6)
               .tickFormat((d, i) => opts.months[i]))
       .call(styleAxis);
    svg.append("g")
       .attr("transform", `translate(0,${box.top})`)
       .call(d3.axisTop(x).tickValues(opts.monthDays).tickSize(-4).tickFormat(""))
       .call(styleAxis);

    svg.append("rect")
       .attr("x", box.left).attr("y", box.top)
       .attr("width", box.right - box.left).attr("height", box.bottom - box.top)
       .attr("fill", "none")
       .attr("stroke", "#999")
       .attr("stroke-width", 1);

    //titles
    const cx = (box.left + box.right) / 2;
    serifText(svg, cx, box.top - 13, opts.title, 18, 0.8);
    serifText(svg, cx, box.bottom + 32, "Calendar Day", 16, 1);
    svg.append("text")
       .attr("transform", `translate(${opts.ylabelX},${(box.top + box.bottom) / 2}) rotate(-90)`)
       .attr("dy", "0.35em")
       .attr("text-anchor", "middle")
       .style("font-family", SERIF).style("font-size", "17px")
       .text("Regional Mean Occurrence (%)");

    drawLegend(svg, opts.legendX, box.top + 8.5, opts.levels, opts.colors);
}

/**
 * legend with one swatch per percentile
 */
function drawLegend(svg, x0, y0, levels, colors) {
    let items = svg.append("g")
        .selectAll("g")
        .data(levels)
        .enter()
        .append("g")
        .attr("transform", (d, i) => `translate(${x0},${y0 + i * 23.15})`);

    items.append("rect")
         .attr("width", 21).attr("height", 18)
         .attr("fill", (d, i) => colors[i])
         .attr("stroke", "#555")
         .attr("stroke-width", 1.2);

    let t = items.append("text")
         .attr("x", 23.5).attr("y", 13)
         .style("font-family", SANS).style("font-size", "15px");
    t.append("tspan").text("P");
    t.append("tspan").attr("dy", 5).style("font-size", "10.5px").text(d => d);
}

/**
 * stack of small CTL-OBS difference strips, one per percentile
 */
function drawDiffPanel(svg, box, opts) {
    const x = d3.scaleLinear().domain([0, 365]).range([box.left, box.right]);
    const w = box.right - box.left;
    let lastBottom = 0;

    opts.rows.forEach((row, i) => {
        const top = box.top + i * box.pitch;
        const bottom = top + box.height;
        lastBottom = bottom;
        const r = opts.ranges[i];
        const y = d3.scaleLinear().domain([-r, r]).range([bottom, top]);
        const y0 = y(0);
        const cid = `${opts.id}-${i}`;

        svg.append("clipPath").attr("id", `pos-${cid}`)
           .append("rect").attr("x", box.left).attr("y", top).attr("width", w).attr("height", y0 - top);
        svg.append("clipPath").attr("id", `neg-${cid}`)
           .append("rect").attr("x", box.left).attr("y", y0).attr("width", w).attr("height", bottom - y0);

        const area = d3.area().x(d => x(d[0])).y0(y0).y1(d => y(d[1]));
        const line = d3.line().x(d => x(d[0])).y(d => y(d[1]));

        //CTL above OBS in the model colour, below in the observed grey
        svg.append("path").attr("d", area(row)).attr("fill", blueColors[i]).attr("clip-path", `url(#pos-${cid})`);
        svg.append("path").attr("d", area(row)).attr("fill", grayColors[i]).attr("clip-path", `url(#neg-${cid})`);

        svg.append("line")
           .attr("x1", box.left).attr("x2", box.right)
           .attr("y1", y0).attr("y2", y0)
           .attr("stroke", "#222").attr("stroke-width", 1);
        svg.append("path")
           .attr("d", line(row))
           .attr("fill", "none")
           .attr("stroke", "#111")
           .attr("stroke-width", 0.9)
           .attr("stroke-linejoin", "round");

        //month ticks on both edges
        opts.monthDays.forEach(d => {
            svg.append("line").attr("x1", x(d)).attr("x2", x(d)).attr("y1", top).attr("y2", top + 3)
               .attr("stroke", "#777").attr("stroke-width", 0.8);
            svg.append("line").attr("x1", x(d)).attr("x2", x(d)).attr("y1", bottom).attr("y2", bottom - 3)
               .attr("stroke", "#777").attr("stroke-width", 0.8);
        });

        svg.append("rect")
           .attr("x", box.left).attr("y", top)
           .attr("width", w).attr("height", box.height)
           .attr("fill", "none")
           .attr("stroke", "#a8a8a8")
           .attr("stroke-width", 1.3);

        svg.append("text")
           .attr("x", box.left - 3).attr("y", y0)
           .attr("dy", "0.36em")
           .attr("text-anchor", "end")
           .style("font-family", SANS).style("font-size", "13.5px")
           .text(`[-${r},${r}]`);

        let lab = svg.append("text")
           .attr("x", box.right + 5).attr("y", y0 + 4.5)
           .style("font-family", SERIF).style("font-size", "18px");
        lab.append("tspan").text("P");
        lab.append("tspan").attr("dy", 6).style("font-size", "11px").text(opts.levels[i]);
    });

    svg.append("g")
       .attr("transform", `translate(0,${lastBottom})`)
       .call(d3.axisBottom(x).tickValues(opts.monthDays).tickSize(0).tickPadding(5)
               .tickFormat((d, i) => opts.months[i]))
       .call(styleAxis);

    const cx = (box.left + box.right) / 2;
    serifText(svg, cx, box.top - 13, opts.title, 18, 0.5);
    serifText(svg, cx, lastBottom + 33, "Calendar Day", 16, 1);
}
</script>
</body>
</html>
